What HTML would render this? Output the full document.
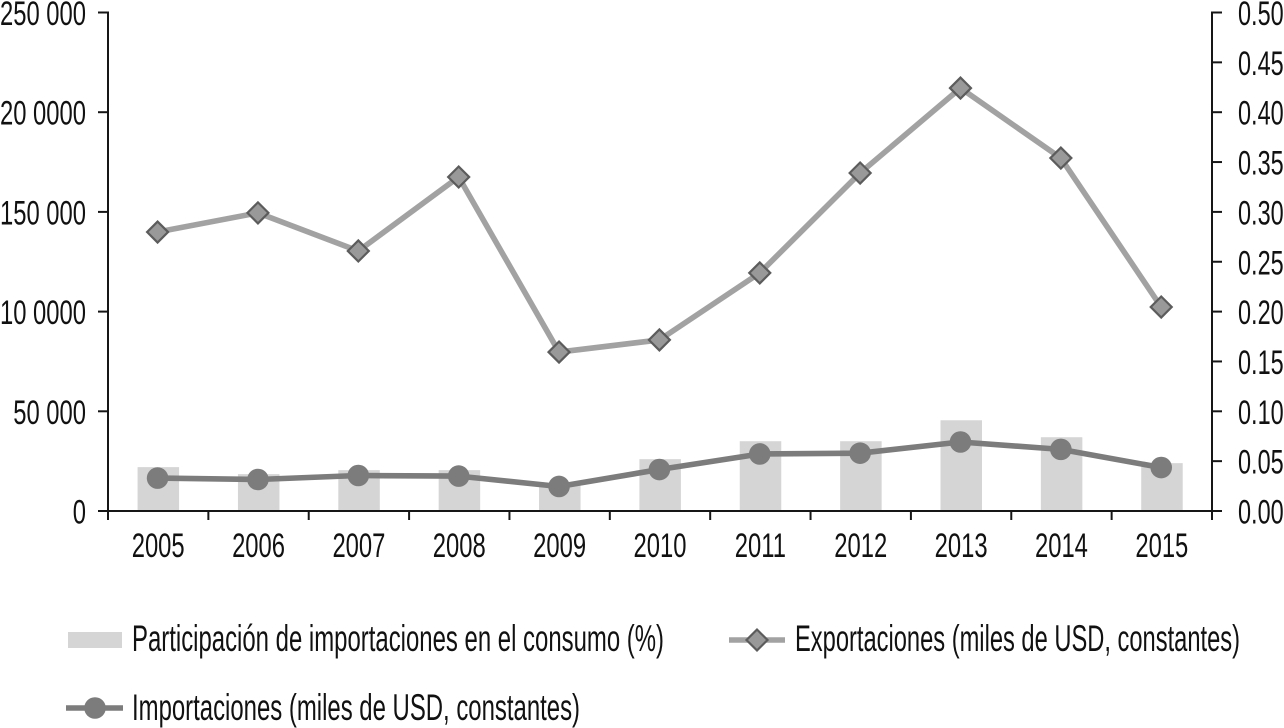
<!DOCTYPE html>
<html lang="es">
<head>
<meta charset="utf-8">
<title>Exportaciones e importaciones</title>
<style>
html,body{margin:0;padding:0;background:#fff;}
svg{display:block;}
text{font-family:"Liberation Sans",sans-serif;fill:#111;}
</style>
</head>
<body>
<svg id="chart" width="1284" height="728" viewBox="0 0 1284 728" xmlns="http://www.w3.org/2000/svg"></svg>
<script>
const categories = ["2005","2006","2007","2008","2009","2010","2011","2012","2013","2014","2015"];
const exportsValues = [139900,149500,130400,167500,79700,85800,119400,169500,212100,177000,102300];
const importsValues = [16500,15800,17800,17500,12300,20800,28600,29000,34600,30900,21800];
const shareValues = [0.044,0.037,0.041,0.041,0.028,0.052,0.070,0.070,0.091,0.074,0.048];
const leftTickValues = [0,50000,100000,150000,200000,250000];
const leftTickLabels = ["0","50 000","10 0000","150 000","20 0000","250 000"];
const rightTickValues = [0,0.05,0.10,0.15,0.20,0.25,0.30,0.35,0.40,0.45,0.50];
const rightTickLabels = ["0.00","0.05","0.10","0.15","0.20","0.25","0.30","0.35","0.40","0.45","0.50"];

const NS = "http://www.w3.org/2000/svg";
const svg = document.getElementById("chart");
const X0 = 108, X1 = 1212, Y0 = 511, Y1 = 12.5;
const LEFT_MAX = 250000, RIGHT_MAX = 0.5;
const step = (X1 - X0) / categories.length;
const xScale = i => X0 + step * (i + 0.5) - 0.6;
const yLeft = v => Y0 - (v / LEFT_MAX) * (Y0 - Y1);
const yRight = v => Y0 - (v / RIGHT_MAX) * (Y0 - Y1);

function mk(tag, attrs, parent) {
  const el = document.createElementNS(NS, tag);
  for (const k in attrs) el.setAttribute(k, attrs[k]);
  (parent || svg).appendChild(el);
  return el;
}
function label(str, x, baseline, anchor, sx, size) {
  const t = mk("text", {transform: "translate(" + x + " " + baseline + ") scale(" + sx + " 1)", "text-anchor": anchor, "font-size": size});
  t.textContent = str;
  return t;
}
function fitted(str, x, baseline, width, size) {
  const t = mk("text", {x: x, y: baseline, textLength: width, lengthAdjust: "spacingAndGlyphs", "font-size": size});
  t.textContent = str;
  return t;
}
function diamond(cx, cy, r) {
  return (cx - r) + "," + cy + " " + cx + "," + (cy - r) + " " + (cx + r) + "," + cy + " " + cx + "," + (cy + r);
}

categories.forEach((c, i) => {
  const h = Y0 - yRight(shareValues[i]);
  const bar = mk("rect", {x: xScale(i) - 20, y: yRight(shareValues[i]), width: 41.5, height: h, fill: "#d5d5d5"});
  
  
});

const axisStyle = {stroke: "#161616", "stroke-width": 2, fill: "none"};
const leftAxis = mk("line", Object.assign({x1: X0, y1: Y1 - 1, x2: X0, y2: Y0 + 9}, axisStyle));


const rightAxis = mk("line", Object.assign({x1: X1, y1: Y1 - 1, x2: X1, y2: Y0 + 9}, axisStyle));


const xAxis = mk("line", Object.assign({x1: X0 - 10, y1: Y0, x2: X1 + 10, y2: Y0}, axisStyle));



leftTickValues.forEach((v, i) => {
  const y = yLeft(v);
  const tick = mk("line", Object.assign({x1: X0 - 10, y1: y, x2: X0, y2: y}, axisStyle));
  
  
  const t = label(leftTickLabels[i], 86, y + 12.5, "end", 0.69, 34.5);
  
  
});
rightTickValues.forEach((v, i) => {
  const y = yRight(v);
  const tick = mk("line", Object.assign({x1: X1, y1: y, x2: X1 + 10, y2: y}, axisStyle));
  
  
  const t = label(rightTickLabels[i], 1238, y + 12.5, "start", 0.68, 34.5);
  
  
});
categories.forEach((c, i) => {
  const tick = mk("line", Object.assign({x1: X0 + step * (i + 1), y1: Y0, x2: X0 + step * (i + 1), y2: Y0 + 9}, axisStyle));
  
  
  const t = label(c, xScale(i) + 0.6, 557, "middle", 0.69, 34.5);
  
  
});

const exportsLine = mk("polyline", {points: exportsValues.map((v, i) => xScale(i) + "," + yLeft(v)).join(" "), fill: "none", stroke: "#a2a2a2", "stroke-width": 5.6, "stroke-linejoin": "round"});


exportsValues.forEach((v, i) => {
  const m = mk("polygon", {points: diamond(xScale(i), yLeft(v), 10.5), fill: "#999999", stroke: "#5c5c5c", "stroke-width": 2.2});
  
  
});

const importsLine = mk("polyline", {points: importsValues.map((v, i) => xScale(i) + "," + yLeft(v)).join(" "), fill: "none", stroke: "#7c7c7c", "stroke-width": 5.6, "stroke-linejoin": "round"});


importsValues.forEach((v, i) => {
  const m = mk("circle", {cx: xScale(i), cy: yLeft(v), r: 10.8, fill: "#7c7c7c"});
  
  
});

const legendShareSwatch = mk("rect", {x: 68, y: 632, width: 54, height: 16, fill: "#d5d5d5"});


const legendShareText = fitted("Participación de importaciones en el consumo (%)", 132, 651, 532, 37);



const legendExportsLine = mk("line", {x1: 729, y1: 640, x2: 785, y2: 640, stroke: "#a2a2a2", "stroke-width": 5.6});


const legendExportsMarker = mk("polygon", {points: diamond(757, 640, 10.5), fill: "#999999", stroke: "#5c5c5c", "stroke-width": 2.2});


const legendExportsText = fitted("Exportaciones (miles de USD, constantes)", 795, 651, 445, 37);



const legendImportsLine = mk("line", {x1: 66, y1: 708, x2: 123, y2: 708, stroke: "#7c7c7c", "stroke-width": 5.6});


const legendImportsMarker = mk("circle", {cx: 95, cy: 708, r: 10.8, fill: "#7c7c7c"});


const legendImportsText = fitted("Importaciones (miles de USD, constantes)", 132, 720, 448, 37);


</script>
</body>
</html>
